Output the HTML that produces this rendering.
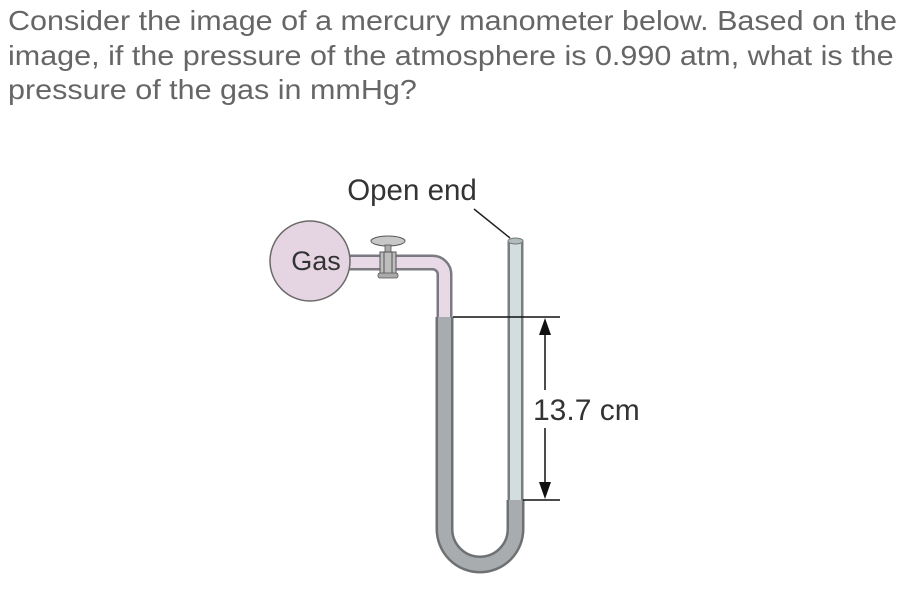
<!DOCTYPE html>
<html><head><meta charset="utf-8"><style>
html,body{margin:0;padding:0;background:#fff;width:918px;height:593px;overflow:hidden}
.q{position:absolute;left:8px;top:4px;font-family:"Liberation Sans",sans-serif;font-size:28px;line-height:34.5px;color:#666;white-space:nowrap;transform:scaleX(1.09);transform-origin:0 0}
</style></head><body>
<div class="q">Consider the image of a mercury manometer below. Based on the<br>image, if the pressure of the atmosphere is 0.990 atm, what is the<br>pressure of the gas in mmHg?</div>
<svg width="918" height="593" style="position:absolute;left:0;top:0">
<path d="M444.5 317 V529 A35.5 35.5 0 0 0 515.5 529 V500" fill="none" stroke="#6e7173" stroke-width="18"/>
<path d="M444.5 317 V529 A35.5 35.5 0 0 0 515.5 529 V500" fill="none" stroke="#a9acae" stroke-width="13"/>
<path d="M515.5 500 V241" fill="none" stroke="#7a7d80" stroke-width="16"/>
<path d="M515.5 500 V241" fill="none" stroke="#d3dcdf" stroke-width="11"/>
<ellipse cx="515.5" cy="241" rx="7.5" ry="3" fill="#b0bcc0" stroke="#777" stroke-width="1"/>
<path d="M340 262.5 H432 A12 12 0 0 1 444.5 275 V317" fill="none" stroke="#7a7a80" stroke-width="16"/>
<path d="M340 262.5 H432 A12 12 0 0 1 444.5 275 V317" fill="none" stroke="#e8d9e6" stroke-width="11"/>
<circle cx="310" cy="261" r="40" fill="#e5d5e2" stroke="#6a6a6a" stroke-width="1.5"/>
<text x="316" y="270" text-anchor="middle" font-family="Liberation Sans,sans-serif" font-size="27" fill="#333">Gas</text>
<ellipse cx="388" cy="241" rx="17" ry="5" fill="#c8c8c8" stroke="#555" stroke-width="1"/>
<rect x="385" y="245" width="6" height="8" fill="#aaa" stroke="#555" stroke-width="0.8"/>
<rect x="380" y="252" width="16" height="22" fill="#bdbdbd" stroke="#555" stroke-width="1"/>
<line x1="384" y1="252" x2="384" y2="274" stroke="#555"/><line x1="392" y1="252" x2="392" y2="274" stroke="#555"/>
<rect x="378" y="273" width="20" height="5" rx="2" fill="#aaa" stroke="#555" stroke-width="0.8"/>
<text x="412" y="200" text-anchor="middle" font-family="Liberation Sans,sans-serif" font-size="29.5" fill="#333">Open end</text>
<line x1="474" y1="209" x2="510" y2="238" stroke="#222" stroke-width="1.5"/>
<line x1="453" y1="317" x2="560" y2="317" stroke="#111" stroke-width="1.5"/>
<line x1="523" y1="500" x2="560" y2="500" stroke="#111" stroke-width="1.5"/>
<line x1="545" y1="330" x2="545" y2="390" stroke="#111" stroke-width="1.5"/>
<line x1="545" y1="428" x2="545" y2="488" stroke="#111" stroke-width="1.5"/>
<polygon points="545,318 539,335 551,335" fill="#111"/>
<polygon points="545,499 539,482 551,482" fill="#111"/>
<text x="533" y="420" font-family="Liberation Sans,sans-serif" font-size="30" fill="#333">13.7 cm</text>
</svg>
</body></html>
